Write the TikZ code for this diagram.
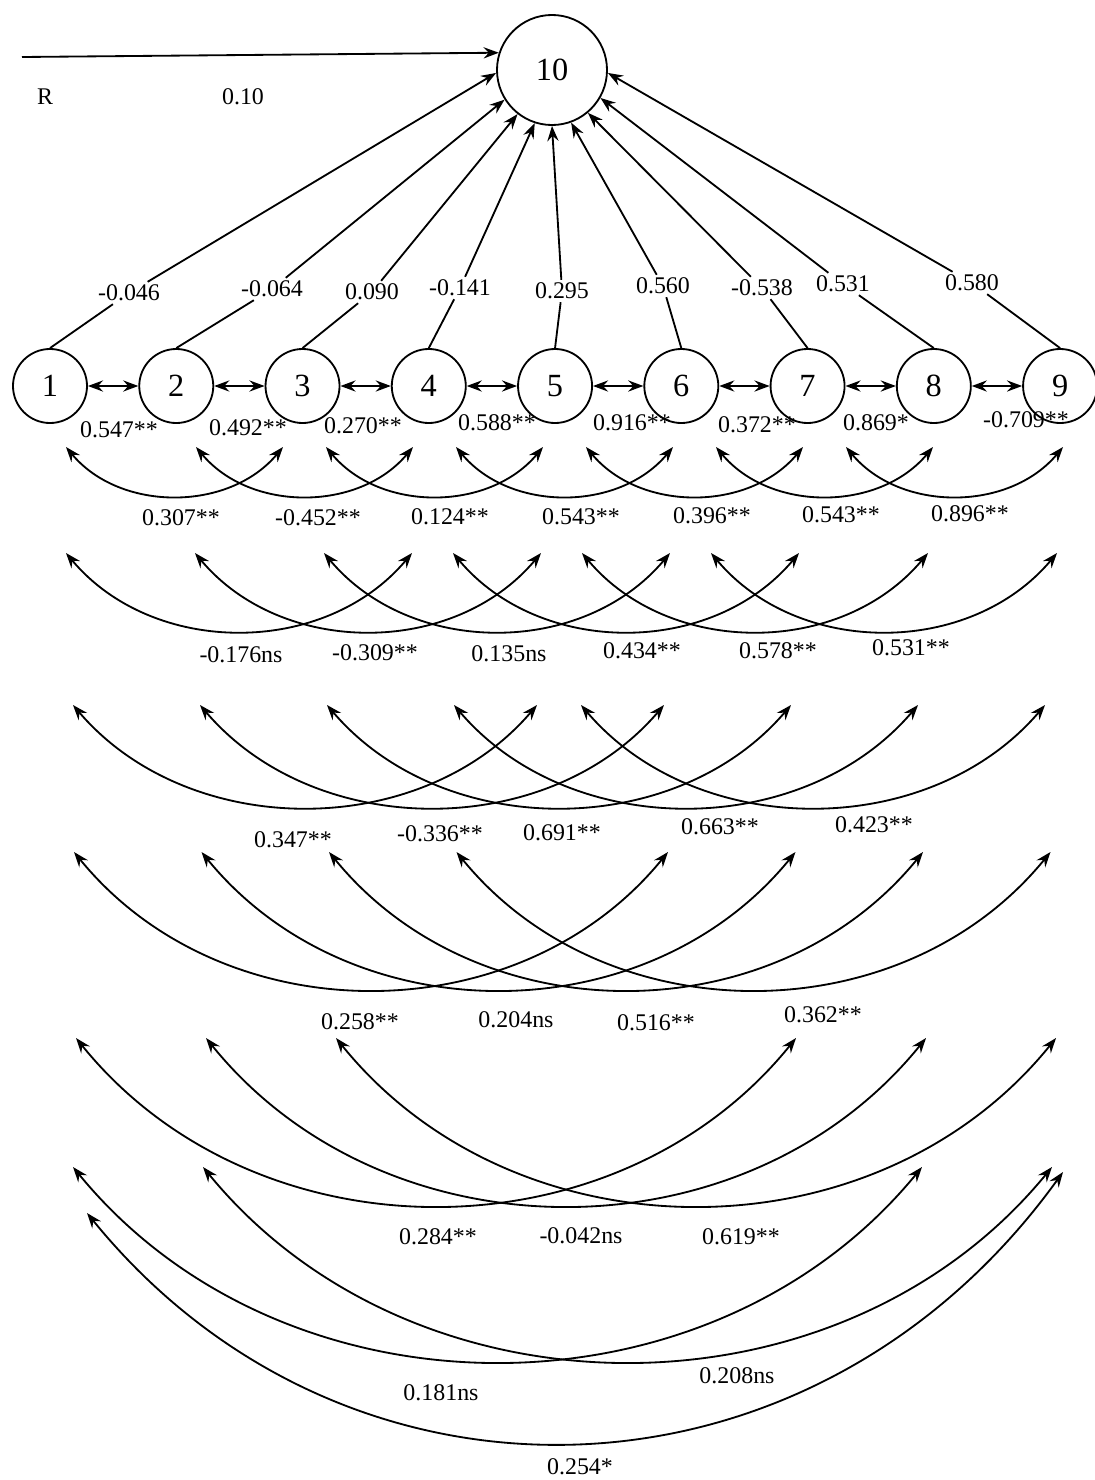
\documentclass[tikz,border=0pt]{standalone}
\usepackage{fontspec}
\setmainfont{Liberation Serif}
\usetikzlibrary{arrows.meta, positioning}

\begin{document}
\begin{tikzpicture}[
    x=0.025cm, y=-0.025cm,
    node distance = 1.26cm,
    var/.style = {circle, draw, line width=1.3pt, minimum size=1.85cm, inner sep=0pt, font=\fontsize{23}{25}\selectfont},
    coef/.style = {inner sep=2pt, font=\fontsize{17}{19}\selectfont},
    link/.style = {line width=1.3pt},
    arrow/.style = {line width=1.3pt, -{Stealth[length=3.8mm, width=2.8mm, inset=1.3mm]}},
    darrow/.style = {line width=1.3pt, {Stealth[length=3.8mm, width=2.8mm, inset=1.3mm]}-{Stealth[length=3.8mm, width=2.8mm, inset=1.3mm]}}
]
    \useasboundingbox (0,0) rectangle (1094,1480);

    % Nodes
    \node (n1) [var] at (50,386) {1};
    \foreach \i [remember=\i as \j (initially 1)] in {2,...,9}
        \node (n\i) [var, right=of n\j] {\i};
    \node (n10) [var, minimum size=2.75cm] at (552,70) {10};

    % Residual
    \coordinate (rin) at (22,57);
    \node (rlab) [coef] at (45,97) {R};
    \node (rval) [coef] at (243,97) {0.10};
    \draw [arrow] (rin) -- (n10.162);

    % Direct paths
    \foreach \i/\x/\y/\a/\c in {1/129/293/183/-0.046, 2/272/289/212/-0.064, 3/372/292/232/0.090,
        4/460/288/252/-0.141, 5/562/291/270/0.295, 6/663/286/290/0.560,
        7/762/288/310/-0.538, 8/843/284/330/0.531, 9/972/283/357/0.580}{
        \node (p\i) [coef] at (\x,\y) {\c};
        \draw [link] (n\i.north) -- (p\i);
        \draw [arrow] (p\i) -- (n10.\a);
    }

    % Neighbour correlations
    \foreach \i/\x/\y/\c in {1/119/430/0.547**, 2/248/428/0.492**, 3/363/426/0.270**, 4/497/423/0.588**,
        5/632/423/0.916**, 6/757/425/0.372**, 7/876/423/0.869*, 8/1026/420/-0.709**}{
        \pgfmathtruncatemacro\k{\i+1}
        \draw [darrow] (n\i) -- (n\k);
        \node (r1-\i) [coef] at (\x,\y) {\c};
    }

    % Correlation arcs
    \foreach \d/\lx/\rx/\sp/\ty/\n/\dx/\dy in {2/66/283/130/447/7/54/65, 3/66/412/129/553/6/87/104,
        4/73/537/127/705/5/116/136, 5/74/668/127.5/852/4/149/183,
        6/76/796/130/1038/3/180/223, 7/73/922/130/1167/2/212/259}
      \foreach \k in {1,...,\n}{
        \coordinate (a\d-\k) at (\lx+\sp*\k-\sp, \ty);
        \coordinate (b\d-\k) at (\rx+\sp*\k-\sp, \ty);
        \draw [darrow] (a\d-\k) .. controls +(\dx,\dy) and +(-\dx,\dy) .. (b\d-\k);
      }
    \coordinate (a8-1) at (87,1213);
    \coordinate (b8-1) at (1063,1172);
    \draw [darrow] (a8-1) .. controls +(260,320) and +(-250,347) .. (b8-1);

    % Arc labels
    \foreach \d/\k/\x/\y/\c in {2/1/181/518/0.307**, 2/2/318/518/-0.452**, 2/3/450/517/0.124**,
        2/4/581/517/0.543**, 2/5/712/516/0.396**, 2/6/841/515/0.543**, 2/7/970/514/0.896**,
        3/1/241/655/-0.176ns, 3/2/375/653/-0.309**, 3/3/509/654/0.135ns,
        3/4/642/651/0.434**, 3/5/778/651/0.578**, 3/6/911/648/0.531**,
        4/1/293/840/0.347**, 4/2/440/834/-0.336**, 4/3/562/833/0.691**, 4/4/720/827/0.663**, 4/5/874/825/0.423**,
        5/1/360/1022/0.258**, 5/2/516/1020/0.204ns, 5/3/656/1023/0.516**, 5/4/823/1015/0.362**,
        6/1/438/1237/0.284**, 6/2/581/1236/-0.042ns, 6/3/741/1237/0.619**,
        7/1/441/1393/0.181ns, 7/2/737/1376/0.208ns,
        8/1/580/1467/0.254*}
        \node (r\d-\k) [coef] at (\x,\y) {\c};

\end{tikzpicture}
\end{document}
